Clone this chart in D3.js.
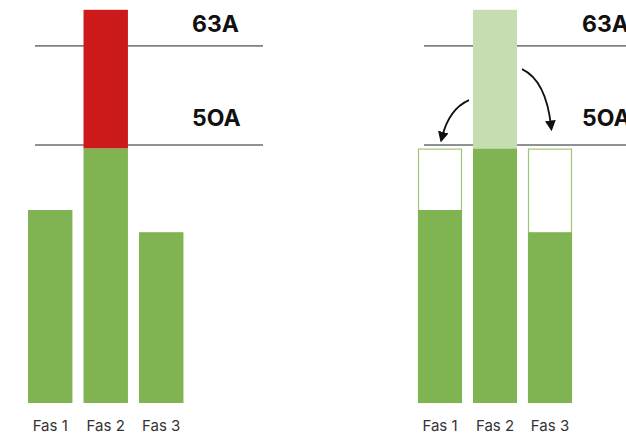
<!DOCTYPE html>
<html>
<head>
<meta charset="utf-8">
<script src="https://cdn.jsdelivr.net/npm/d3@7"></script>
<style>
  body { margin: 0; background: #fff; }
  svg { display: block; }
</style>
</head>
<body>
<div id="chart"></div>
<script>
// phases and their loads (schematic units, 50 = fuse line)
const phases = ["Fas 1", "Fas 2", "Fas 3"];
const load = [37.4, 49.3, 33.1];
const overload = [0, 76.2, 0];      // Fas 2 peak above the green part
const balancedCap = [49.3, 0, 49.3]; // empty room on the other phases
const limits = [50, 69.2];
const limitLabels = ["5OA", "63A"];

const width = 626, height = 436;
const green = "#80b352", red = "#cc1a1a", paleGreen = "#c6ddb1";

const svg = d3.select("#chart").append("svg")
  .attr("width", width).attr("height", height);

const defs = svg.append("defs");
defs.append("marker")
  .attr("id", "arrow")
  .attr("viewBox", "0 0 10 10")
  .attr("refX", 5).attr("refY", 5)
  .attr("markerWidth", 6).attr("markerHeight", 6)
  .attr("orient", "auto-start-reverse")
  .append("path")
  .attr("d", "M0,0 L10,5 L0,10 z")
  .attr("fill", "#111");

const y = d3.scaleLinear().domain([0, 50]).range([403, 145]);

function panel(x0, x1, lineX0, lineX1, labelX, right) {
  const x = d3.scaleBand().domain(phases).range([x0, x1])
    .paddingInner(0.2).paddingOuter(0.1);
  const g = svg.append("g");

  // limit lines
  g.selectAll(".limit").data(limits).enter().append("line")
    .attr("x1", lineX0).attr("x2", lineX1)
    .attr("y1", d => y(d)).attr("y2", d => y(d))
    .attr("stroke", "#222").attr("stroke-width", 1);

  g.selectAll(".limit-label").data(limits).enter().append("text")
    .attr("x", labelX)
    .attr("y", (d, i) => y(d) - (i === 0 ? 19 : 14))
    .attr("font-family", "Inter, 'DejaVu Sans', sans-serif")
    .attr("font-weight", "bold")
    .attr("font-size", 23)
    .attr("fill", "#111")
    .text((d, i) => limitLabels[i]);

  // peak bar (red on left, pale green on right)
  g.selectAll(".peak").data(phases.filter((p, i) => overload[i] > 0)).enter().append("rect")
    .attr("x", p => x(p))
    .attr("y", p => y(overload[phases.indexOf(p)]))
    .attr("width", x.bandwidth())
    .attr("height", p => y(load[phases.indexOf(p)]) - y(overload[phases.indexOf(p)]))
    .attr("fill", right ? paleGreen : red);

  if (right) {
    g.selectAll(".room").data(phases.filter((p, i) => balancedCap[i] > 0)).enter().append("rect")
      .attr("x", p => x(p) + 0.5)
      .attr("y", p => y(balancedCap[phases.indexOf(p)]) + 0.5)
      .attr("width", x.bandwidth() - 1)
      .attr("height", p => y(0) - y(balancedCap[phases.indexOf(p)]) - 1)
      .attr("fill", "#fff")
      .attr("stroke", "#9cc77a").attr("stroke-width", 1.2);
  }

  g.selectAll(".bar").data(phases).enter().append("rect")
    .attr("x", p => x(p))
    .attr("y", (p, i) => y(load[i]))
    .attr("width", x.bandwidth())
    .attr("height", (p, i) => y(0) - y(load[i]))
    .attr("fill", green);

  g.selectAll(".cat").data(phases).enter().append("text")
    .attr("x", p => x(p) + x.bandwidth() / 2)
    .attr("y", 431)
    .attr("text-anchor", "middle")
    .attr("font-family", "Inter, Roboto, sans-serif")
    .attr("font-size", 15)
    .attr("fill", "#333")
    .text(p => p);

  return x;
}

panel(22.45, 189, 35, 263, 192, false);
const xr = panel(412.5, 577.5, 424, 626, 582, true);

// arrows moving load from Fas 2 to the other phases
const a1 = xr("Fas 2") - 4, a2 = xr("Fas 2") + xr.bandwidth() + 5;
svg.append("path")
  .attr("d", `M${a1},${y(58.7)} Q${a1 - 20},${y(57)} ${a1 - 27},${y(51.5)}`)
  .attr("fill", "none").attr("stroke", "#111").attr("stroke-width", 1.8)
  .attr("marker-end", "url(#arrow)");
svg.append("path")
  .attr("d", `M${a2},${y(64.7)} Q${a2 + 24},${y(62.5)} ${a2 + 29},${y(53.7)}`)
  .attr("fill", "none").attr("stroke", "#111").attr("stroke-width", 1.8)
  .attr("marker-end", "url(#arrow)");
</script>
</body>
</html>
